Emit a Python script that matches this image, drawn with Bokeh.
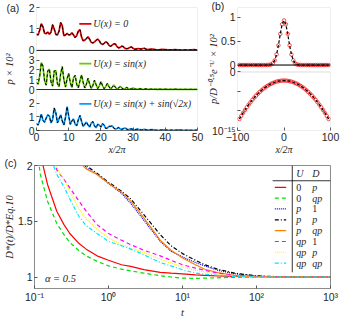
from bokeh.plotting import figure
from bokeh.models import (Range1d, LogScale, LinearScale, FixedTicker, BoxAnnotation,
                          Span, Label)
from bokeh.layouts import column, row
from bokeh.embed import file_html
from bokeh.resources import INLINE

# ---------------- data: panel (a) ----------------
x_a = [i * 0.5 for i in range(71)] + [float(v) for v in range(36, 51)]
p_u0 = [0.76, 0.72, 0.95, 1.25, 1.10, 0.80, 0.78, 0.86, 0.76, 0.85,
        1.20, 1.00, 0.75, 0.72, 0.90, 1.30, 1.15, 0.68, 0.72, 0.80,
        0.72, 0.74, 0.82, 0.72, 0.60, 0.70, 0.90, 0.97, 0.62, 0.45,
        0.48, 0.55, 0.64, 0.52, 0.38, 0.35, 0.40, 0.47, 0.53, 0.45,
        0.32, 0.28, 0.33, 0.40, 0.36, 0.24, 0.19, 0.25, 0.31, 0.30,
        0.18, 0.12, 0.14, 0.20, 0.17, 0.10, 0.08, 0.10, 0.14, 0.16,
        0.10, 0.06, 0.06, 0.09, 0.08, 0.06, 0.09, 0.10, 0.06, 0.04,
        0.05,
        0.06, 0.04, 0.03, 0.05, 0.04, 0.03, 0.03, 0.04, 0.03, 0.02, 0.03, 0.02, 0.03, 0.04, 0.02]
p_sin = [0.70, 0.55, 1.40, 2.75, 2.40, 0.90, 0.45, 1.90, 2.10, 0.80,
         0.35, 1.90, 1.95, 0.60, 0.30, 1.60, 2.35, 1.00, 0.25, 1.10,
         1.65, 0.70, 0.20, 1.20, 1.45, 0.50, 0.18, 0.90, 1.50, 0.70,
         0.15, 0.55, 1.15, 0.55, 0.12, 0.40, 0.95, 0.50, 0.10, 0.35,
         0.82, 0.40, 0.08, 0.30, 0.62, 0.30, 0.06, 0.22, 0.45, 0.22,
         0.05, 0.15, 0.33, 0.15, 0.04, 0.10, 0.22, 0.10, 0.03, 0.07,
         0.15, 0.07, 0.02, 0.05, 0.10, 0.05, 0.02, 0.04, 0.07, 0.03,
         0.02,
         0.05, 0.02, 0.04, 0.02, 0.03, 0.02, 0.02, 0.03, 0.02, 0.01, 0.02, 0.01, 0.02, 0.01, 0.01]
p_sin2 = [0.50, 0.40, 0.75, 1.20, 0.75, 0.60, 0.90, 1.15, 1.05, 0.55,
          0.80, 1.65, 1.30, 0.55, 0.85, 1.15, 0.70, 0.40, 0.95, 1.75,
          1.05, 0.45, 0.70, 0.85, 0.45, 0.35, 0.80, 1.10, 0.65, 0.30,
          0.45, 0.62, 0.40, 0.25, 0.55, 0.65, 0.35, 0.20, 0.45, 0.40,
          0.25, 0.50, 0.40, 0.15, 0.18, 0.30, 0.30, 0.35, 0.18, 0.10,
          0.15, 0.22, 0.12, 0.08, 0.14, 0.18, 0.10, 0.06, 0.10, 0.12,
          0.07, 0.05, 0.08, 0.10, 0.06, 0.04, 0.06, 0.09, 0.05, 0.03,
          0.04,
          0.06, 0.03, 0.02, 0.04, 0.05, 0.02, 0.03, 0.02, 0.04, 0.03, 0.02, 0.03, 0.02, 0.02, 0.03]
a_labels = ["U(x) = 0", "U(x) = sin(x)", "U(x) = sin(x) + sin(\u221a2x)"]
a_ticks_x = [0, 10, 20, 30, 40, 50]

# ---------------- data: panel (b) ----------------
x_b = list(range(-96, 97, 4))
pb_lin = [0, 0, 0, 0, 0, 0, 0, 0, 0, 0, 0, 0, 0, 0, 0,
          0.001, 0.003, 0.011, 0.036, 0.097, 0.22, 0.41, 0.65, 0.85,
          0.93,
          0.85, 0.65, 0.41, 0.22, 0.097, 0.036, 0.011, 0.003, 0.001,
          0, 0, 0, 0, 0, 0, 0, 0, 0, 0, 0, 0, 0, 0, 0]
pb_log10 = [-12.06, -11.26, -10.49, -9.75, -9.05, -8.38, -7.75, -7.15, -6.58, -6.05,
            -5.56, -5.09, -4.67, -4.27, -3.91, -3.59, -3.30, -3.04, -2.82, -2.63,
            -2.47, -2.35, -2.27, -2.22,
            -2.20,
            -2.22, -2.27, -2.35, -2.47, -2.63, -2.82, -3.04, -3.30, -3.59, -3.91,
            -4.27, -4.67, -5.09, -5.56, -6.05, -6.58, -7.15, -7.75, -8.38, -9.05,
            -9.75, -10.49, -11.26, -12.06]
pb_log = [10 ** e for e in pb_log10]

# ---------------- data: panel (c) ----------------
t_c = [0.1, 0.12, 0.15, 0.2, 0.25, 0.3, 0.4, 0.5, 0.7, 1, 1.5, 2, 3, 5, 7, 10,
       15, 20, 30, 50, 100, 200, 500, 1000]
d_0_p = [2.5, 2.1, 1.83, 1.59, 1.47, 1.39, 1.30, 1.25, 1.19, 1.15, 1.11, 1.095, 1.067,
         1.042, 1.035, 1.028, 1.02, 1.015, 1.01, 1.006, 1.003, 1.0, 1.0, 1.0]
d_0_qp = [2.3, 1.92, 1.68, 1.48, 1.38, 1.31, 1.235, 1.19, 1.14, 1.10, 1.07, 1.055, 1.035,
          1.012, 1.0, 0.99, 0.988, 0.99, 0.993, 0.997, 1.0, 1.0, 1.0, 1.0]
d_p_1 = [3.4, 3.1, 2.8, 2.5, 2.35, 2.25, 2.1, 1.98, 1.92, 1.84, 1.75, 1.66, 1.51, 1.32,
         1.23, 1.18, 1.13, 1.10, 1.06, 1.03, 1.008, 1.0, 1.0, 1.0]
d_p_p = [3.5, 3.2, 2.9, 2.6, 2.4, 2.3, 2.1, 2.0, 1.93, 1.85, 1.77, 1.70, 1.56, 1.38,
         1.28, 1.21, 1.15, 1.11, 1.07, 1.035, 1.01, 1.003, 1.0, 1.0]
d_p_qp = [3.3, 3.0, 2.7, 2.45, 2.3, 2.2, 2.03, 1.97, 1.92, 1.84, 1.76, 1.68, 1.53, 1.33,
          1.24, 1.17, 1.11, 1.07, 1.04, 1.015, 1.004, 1.0, 1.0, 1.0]
d_qp_1 = [2.9, 2.6, 2.3, 1.96, 1.875, 1.80, 1.68, 1.59, 1.47, 1.39, 1.33, 1.29, 1.24,
          1.19, 1.15, 1.11, 1.08, 1.06, 1.035, 1.015, 1.004, 1.0, 1.0, 1.0]
d_qp_p = [2.9, 2.6, 2.3, 1.98, 1.87, 1.77, 1.61, 1.52, 1.43, 1.35, 1.29, 1.26, 1.22,
          1.16, 1.125, 1.09, 1.06, 1.045, 1.025, 1.01, 1.002, 1.0, 1.0, 1.0]
d_qp_qp = [2.7, 2.4, 2.15, 1.92, 1.81, 1.70, 1.54, 1.46, 1.39, 1.32, 1.28, 1.25, 1.20,
           1.13, 1.10, 1.065, 1.035, 1.025, 1.015, 1.005, 1.0, 1.0, 1.0, 1.0]
c_U = ["0", "0", "p", "p", "p", "qp", "qp", "qp"]
c_D = ["p", "qp", "1", "p", "qp", "1", "p", "qp"]
c_xticks = [0.1, 1, 10, 100, 1000]
c_xlabels = ["10\u207b\u00b9", "10\u2070", "10\u00b9", "10\u00b2", "10\u00b3"]

# ---------------- style ----------------
SERIF = "Liberation Serif"
SANS = "Liberation Sans"
TICK_FS = "10.5px"
TXT_FS = "10px"
BOX = "#8c8c8c"
TICKC = "#555555"
TXTC = "#262626"


def band(v0, v1, q0, q1, H):
    k = (v1 - v0) / (q1 - q0)
    return v0 - q0 * k, v1 + (H - q1) * k


def tpos(v, v0, v1, q0, q1):
    return round(q0 + (v - v0) / (v1 - v0) * (q1 - q0), 3)


def style_axis(ax, text=None, standoff=0, size="10.5px"):
    ax.major_tick_in = 3
    ax.major_tick_out = 0
    ax.minor_tick_line_color = None
    ax.major_tick_line_color = TICKC
    ax.axis_line_color = None
    ax.major_label_text_font = SANS
    ax.major_label_text_font_size = TICK_FS
    ax.major_label_text_color = TXTC
    ax.major_label_standoff = 2
    if text is not None:
        ax.axis_label = text
        ax.axis_label_text_font = SERIF
        ax.axis_label_text_font_style = "italic"
        ax.axis_label_text_font_size = size
        ax.axis_label_text_color = TXTC
        ax.axis_label_standoff = standoff


def panel_tag(p, text, offset, standoff):
    p.title.text = text
    p.title.align = "left"
    p.title.vertical_align = "bottom"
    p.title.offset = offset
    p.title.standoff = standoff
    p.title.text_font = SANS
    p.title.text_font_style = "normal"
    p.title.text_font_size = "10.5px"
    p.title.text_color = TXTC


def label(p, x, y, text, yr="default", size=TXT_FS, italic=True, align="left"):
    p.add_layout(Label(x=x, y=y, x_range_name="px", y_range_name=yr, text=text,
                       text_font=SERIF, text_font_size=size,
                       text_font_style="italic" if italic else "normal",
                       text_color=TXTC, text_align=align, text_baseline="middle"))


def base_fig(**kw):
    p = figure(toolbar_location=None, output_backend="svg", **kw)
    p.xgrid.visible = False
    p.ygrid.visible = False
    p.background_fill_color = "white"
    p.border_fill_color = "white"
    return p


H1 = 157  # height of top row

# ---------------- panel (a) ----------------
WA, HA = 165, 126


def ma(rx, ry):
    return (rx - 34) * WA / 173, (138 - ry) * HA / 133


pa = base_fig(width=204, height=H1, x_range=Range1d(0, 50), y_range=Range1d(0, HA),
              min_border_left=32, min_border_right=7, min_border_top=5,
              min_border_bottom=H1 - 5 - HA)
pa.outline_line_color = None
A_BANDS = [("a1", 0, 2, 82, HA, [0, 1, 2], p_u0, "#e00000"),
           ("a2", 0, 4, 42, 82, [0, 1, 2, 3], p_sin, "#66cc00"),
           ("a3", 0, 3, 0, 42, [0, 1, 2], p_sin2, "#0a9bff")]
pa.extra_x_ranges = {"px": Range1d(0, WA)}
pa.extra_y_ranges = {n: Range1d(*band(v0, v1, q0, q1, HA)) for n, v0, v1, q0, q1, *_ in A_BANDS}
ticks, over = [], {}
for n, v0, v1, q0, q1, tv, ys, col in A_BANDS:
    for v in tv:
        q = tpos(v, v0, v1, q0, q1)
        ticks.append(q)
        over[q] = str(v)
    pa.line(x_a, ys, y_range_name=n, line_color=col, line_width=1.7)
    pa.line(x_a, ys, y_range_name=n, line_color="black", line_width=1, line_dash="3 2")
    pa.add_layout(BoxAnnotation(left=0, right=50, bottom=v0, top=v1, y_range_name=n,
                                fill_color=None, line_color=BOX, line_width=1))
    pa.add_layout(Span(location=0, dimension="width", y_range_name=n,
                       line_color="black", line_width=1))
style_axis(pa.yaxis[0], "p \u00d7 10\u00b2", standoff=11)
pa.yaxis.ticker = FixedTicker(ticks=ticks)
pa.yaxis.major_label_overrides = over
style_axis(pa.xaxis[0], "x/2\u03c0", standoff=0, size="10px")
pa.xaxis.ticker = FixedTicker(ticks=a_ticks_x)
panel_tag(pa, "(a)", -30, -13)

for (n, v0, v1, q0, q1, tv, ys, col), ry, txt in zip(A_BANDS, [22.7, 65.7, 109.3], a_labels):
    x0, yy = ma(80, ry)
    x1, _ = ma(93, ry)
    pa.segment(x0=[x0], y0=[yy], x1=[x1], y1=[yy], x_range_name="px",
               line_color=col, line_width=1.7)
    label(pa, ma(95, ry)[0], yy, txt, size="10px")

# ---------------- panel (b) ----------------
WB, HB = 99, 124


def mb(rx, ry):
    return (rx - 242) * WB / 104, (138 - ry) * HB / 131


pb = base_fig(width=137, height=H1, x_range=Range1d(-100, 100), y_range=Range1d(0, HB),
              min_border_left=27, min_border_right=11, min_border_top=7,
              min_border_bottom=H1 - 7 - HB)
pb.outline_line_color = None
B1 = (0, 1.2, 66, HB)
B2 = (-15, 0, 0, 59)
lo, hi = band(B2[0], B2[1], B2[2], B2[3], HB)
pb.extra_x_ranges = {"px": Range1d(0, WB)}
pb.extra_y_ranges = {"b1": Range1d(*band(*B1, HB)), "b2": Range1d(10 ** lo, 10 ** hi)}
pb.extra_y_scales = {"b2": LogScale()}

pb.scatter(x_b, pb_lin, y_range_name="b1", marker="circle", size=3.5, fill_color=None,
           line_color="#ff2020", line_width=0.8)
pb.line(x_b, pb_lin, y_range_name="b1", line_color="black", line_width=1.2, line_dash="3 2")
pb.scatter(x_b, pb_log, y_range_name="b2", marker="circle", size=3.5, fill_color=None,
           line_color="#ff2020", line_width=0.8)
pb.line(x_b, pb_log, y_range_name="b2", line_color="black", line_width=1.2, line_dash="3 2")
pb.add_layout(BoxAnnotation(left=-100, right=100, bottom=0, top=1.2, y_range_name="b1",
                            fill_color=None, line_color=BOX, line_width=1))
pb.add_layout(Span(location=0, dimension="width", y_range_name="b1",
                   line_color="black", line_width=1))
pb.add_layout(BoxAnnotation(left=-100, right=100, bottom=1e-15, top=1, y_range_name="b2",
                            fill_color=None, line_color=BOX, line_width=1))
ticks, over = [], {}
for v, s in [(0, "0"), (0.5, "0.5"), (1, "1")]:
    q = tpos(v, *B1)
    ticks.append(q)
    over[q] = s
for e, s in [(0, "0"), (-5, ""), (-10, ""), (-15, "10\u207b\u00b9\u2075")]:
    q = tpos(e, *B2)
    ticks.append(q)
    over[q] = s
style_axis(pb.yaxis[0], "p/D\u207b\u2070\u00b7\u2075e\u207b\u1d41 \u00d7 10\u00b2", standoff=-10)
pb.yaxis.ticker = FixedTicker(ticks=ticks)
pb.yaxis.major_label_overrides = over
style_axis(pb.xaxis[0], "x/2\u03c0", standoff=0, size="10px")
pb.xaxis.ticker = FixedTicker(ticks=[-100, 0, 100])
panel_tag(pb, "(b)", -26, -8)

# ---------------- panel (c) ----------------
WC, HC = 298, 123
TOPC = 8


def mc(rx, ry):
    return (rx - 34) * WC / 312, (302 - ry) * HC / 129


pc = base_fig(width=341, height=320 - H1, x_axis_type="log", x_range=Range1d(0.1, 1000),
              y_range=Range1d(0.897, 2.0),
              min_border_left=32, min_border_right=11, min_border_top=TOPC,
              min_border_bottom=320 - H1 - TOPC - HC)
pc.outline_line_color = BOX
pc.extra_x_ranges = {"px": Range1d(0, WC)}
pc.extra_x_scales = {"px": LinearScale()}
pc.extra_y_ranges = {"py": Range1d(0, HC)}

C_SERIES = [(d_0_p, "#ff0000", "solid"), (d_0_qp, "#00e000", "4 3"),
            (d_p_1, "#0000ff", "1 1"), (d_p_p, "#000000", "4 2 1 2"),
            (d_p_qp, "#ff8000", "solid"), (d_qp_1, "#ff00ff", "4 3"),
            (d_qp_p, "#ffee00", "1 1"), (d_qp_qp, "#00e5ff", "4 2 1 2")]
for ys, col, dash in C_SERIES:
    pc.line(t_c, ys, line_color=col, line_width=1.2, line_dash=dash)

bx, by = pc.below[0], pc.left[0]
style_axis(bx, "t", standoff=1)
bx.ticker = FixedTicker(ticks=c_xticks)
bx.major_label_overrides = dict(zip(c_xticks, c_xlabels))
style_axis(by, "D*(t)/D*Eq.10", standoff=0)
by.ticker = FixedTicker(ticks=[1, 1.5, 2])
by.major_label_overrides = {1: "1", 1.5: "1.5", 2: "2"}
panel_tag(pc, "(c)", -30, -7.4)

# legend table
hx0, hy = mc(285, 189)
hx1, _ = mc(346, 189)
pc.segment(x0=[hx0], y0=[hy], x1=[hx1], y1=[hy], x_range_name="px", y_range_name="py",
           line_color="black", line_width=0.8)
vx, vy0 = mc(305.7, 173)
_, vy1 = mc(305.7, 285)
pc.segment(x0=[vx], y0=[vy0], x1=[vx], y1=[vy1], x_range_name="px", y_range_name="py",
           line_color="black", line_width=0.8)
label(pc, mc(310, 181)[0], mc(0, 181)[1], "U", yr="py")
label(pc, mc(326.7, 181)[0], mc(0, 181)[1], "D", yr="py")
rows_y = [196, 207.3, 218.5, 230, 241.3, 252.7, 264, 275.3]
for (ys, col, dash), u, d, ry in zip(C_SERIES, c_U, c_D, rows_y):
    sx0, sy = mc(287.3, ry)
    sx1, _ = mc(299.3, ry)
    pc.segment(x0=[sx0], y0=[sy], x1=[sx1], y1=[sy], x_range_name="px", y_range_name="py",
               line_color=col, line_width=1.2, line_dash=dash)
    label(pc, mc(310, ry)[0], sy, u, yr="py", italic=not u.isdigit())
    label(pc, mc(326.7, ry)[0], sy, d, yr="py", italic=not d.isdigit())

label(pc, *mc(45, 291.7), "\u03b1 = 0.5", yr="py", size="10.5px")

layout = column(row(pa, pb), pc)
open("out.html", "w").write(file_html(layout, INLINE))
